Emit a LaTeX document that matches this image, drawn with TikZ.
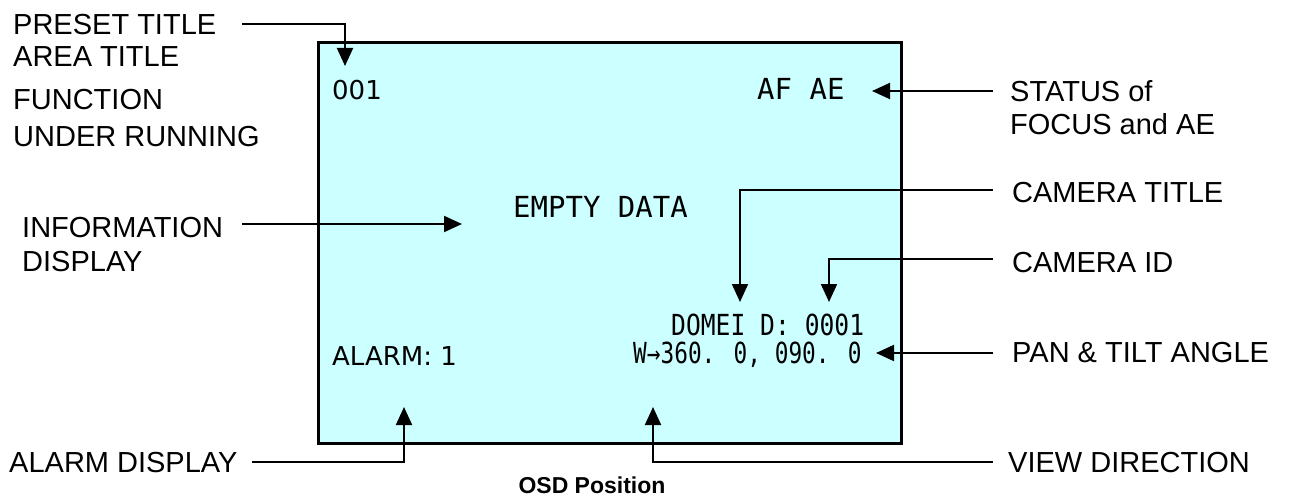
\documentclass[tikz,border=0pt]{standalone}
\usepackage{fontspec}
\usepackage{graphicx}
\setmainfont{Liberation Sans}
\newfontfamily\osdmono{DejaVu Sans Mono}
\newfontfamily\osdsans{DejaVu Sans}
\usetikzlibrary{arrows.meta}
\definecolor{screen}{HTML}{CCFFFF}
\tikzset{
  lbl/.style={anchor=base west, inner sep=0pt, font=\fontsize{29}{32}\selectfont},
  mono/.style={anchor=base west, inner sep=0pt, font=\osdmono\fontsize{29}{32}\selectfont},
  sans/.style={anchor=base west, inner sep=0pt, font=\osdsans\fontsize{26}{32}\selectfont},
  arr/.style={line width=2pt, -{Triangle[length=18pt,width=16pt]}},
  screenbox/.style={draw, line width=3pt, fill=screen}
}
\begin{document}
\begin{tikzpicture}[x=1pt,y=-1pt]
\useasboundingbox (0,0) rectangle (1290,497);
% screen
\draw[screenbox] (318,43) rectangle (901,443);
% screen texts
\node[sans] (n001) at (332,100) {001};
\node[mono] (afae) at (757,100) {AF AE};
\node[mono] (empty) at (513,218) {EMPTY DATA};
\node[mono] (domeid) at (671,335) {\scalebox{0.85}[1]{DOMEI D: 0001}};
\node[mono] (angle) at (633,363) {\scalebox{0.785}[1]{W→360. 0, 090. 0}};
\node[sans] (alarm) at (332,365) {ALARM: 1};
% left labels
\node[lbl] (preset) at (13,35) {PRESET TITLE};
\node[lbl] (area) at (13,67) {AREA TITLE};
\node[lbl] (func) at (13,110) {FUNCTION};
\node[lbl] (under) at (13,147) {UNDER RUNNING};
\node[lbl] (info) at (22,237) {INFORMATION};
\node[lbl] (disp) at (22,271) {DISPLAY};
\node[lbl] (alarmlbl) at (9,472) {ALARM DISPLAY};
% right labels
\node[lbl] (status) at (1010,102) {STATUS of};
\node[lbl] (focus) at (1010,135) {FOCUS and AE};
\node[lbl] (camtitle) at (1012,203) {CAMERA TITLE};
\node[lbl] (camid) at (1012,272) {CAMERA ID};
\node[lbl] (pan) at (1012,362) {PAN \& TILT ANGLE};
\node[lbl] (view) at (1008,472) {VIEW DIRECTION};
% caption
\node[anchor=base, inner sep=0pt, font=\bfseries\fontsize{23}{26}\selectfont] (cap) at (592,493) {OSD Position};
% connector end points
\coordinate (pS) at (242,24);   \coordinate (pT) at (345,66);
\coordinate (iS) at (242,224);  \coordinate (iT) at (462,224);
\coordinate (sS) at (993,91);   \coordinate (sT) at (872,91);
\coordinate (cS) at (993,190);  \coordinate (cT) at (740,302);
\coordinate (dS) at (993,259);  \coordinate (dT) at (829,302);
\coordinate (aS) at (993,353);  \coordinate (aT) at (876,353);
\coordinate (lS) at (252,462);  \coordinate (lT) at (404,407);
\coordinate (vS) at (993,462);  \coordinate (vT) at (653,407);
% connectors
\draw[arr] (pS) -| (pT);
\draw[arr] (iS) -- (iT);
\draw[arr] (sS) -- (sT);
\draw[arr] (cS) -| (cT);
\draw[arr] (dS) -| (dT);
\draw[arr] (aS) -- (aT);
\draw[arr] (lS) -| (lT);
\draw[arr] (vS) -| (vT);
\end{tikzpicture}
\end{document}
